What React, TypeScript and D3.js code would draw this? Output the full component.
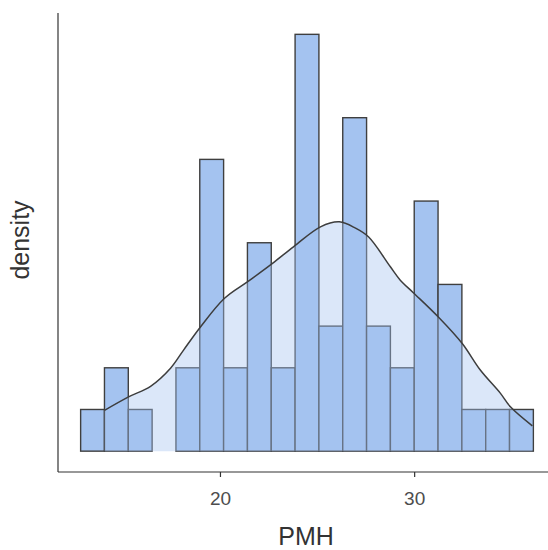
import * as d3 from 'd3'

// histogram counts per bin (19 bins)
const binStart = 12.8
const binWidth = 1.227
const counts = [1, 2, 1, 0, 2, 7, 2, 5, 2, 10, 3, 8, 3, 2, 6, 4, 1, 1, 1]
const nObs = 61

// kernel density estimate
const kdeX = [14.03, 15.27, 16.4, 17.43, 18.1, 18.97, 20.21, 21.44, 22.68, 23.76, 25.15, 26.12, 26.95, 27.62, 28.75, 29.26, 29.93, 31.22, 32.45, 33.38, 34.41, 34.93, 36.06]
const kdeY = [0.0131, 0.0174, 0.0208, 0.0266, 0.0324, 0.0398, 0.049, 0.0545, 0.0602, 0.0655, 0.0719, 0.0735, 0.0715, 0.0687, 0.0591, 0.0548, 0.0508, 0.043, 0.0345, 0.026, 0.0186, 0.0142, 0.0081]

const xTicks = [20, 30]

const W = 548
const H = 550
const fill = '#a4c3f0'
const font = '"Liberation Sans", Arial, sans-serif'

export default function App() {
  const bins = counts.map((c, i) => ({
    x0: binStart + i * binWidth,
    x1: binStart + (i + 1) * binWidth,
    density: c / (nObs * binWidth),
  }))
  const xLo = binStart
  const xHi = binStart + counts.length * binWidth
  const pad = (xHi - xLo) * 0.05
  const x = d3.scaleLinear().domain([xLo - pad, xHi + pad]).range([58, 556])

  const yMax = d3.max(bins, d => d.density) as number
  const y = d3.scaleLinear().domain([-yMax * 0.05, yMax * 1.05]).range([472, 13.5])

  const pts = kdeX.map((v, i) => [v, kdeY[i]] as [number, number])
  const area = d3.area<[number, number]>()
    .x(d => x(d[0]))
    .y0(y(0))
    .y1(d => y(d[1]))
    .curve(d3.curveCatmullRom)
  const line = d3.line<[number, number]>()
    .x(d => x(d[0]))
    .y(d => y(d[1]))
    .curve(d3.curveCatmullRom)

  return (
    <svg width={W} height={H} style={{ position: 'absolute', left: 0, top: 0 }} fontFamily={font}>
      <rect width={W} height={H} fill="white" />
      {/* bars */}
      <g>
        {bins.map((b, i) => (
          <rect
            key={i}
            x={x(b.x0)}
            y={y(b.density)}
            width={x(b.x1) - x(b.x0)}
            height={y(0) - y(b.density)}
            fill={fill}
            stroke="#3f3f3f"
            strokeWidth={1.4}
          />
        ))}
      </g>
      {/* density */}
      <path d={area(pts) || ''} fill={fill} fillOpacity={0.4} />
      <path d={line(pts) || ''} fill="none" stroke="#3d3d3d" strokeWidth={1.5} />
      {/* axes */}
      <line x1={58} x2={58} y1={13} y2={472} stroke="#333" strokeWidth={1.2} />
      <line x1={58} x2={W} y1={472} y2={472} stroke="#333" strokeWidth={1.2} />
      {xTicks.map(t => (
        <g key={t} transform={`translate(${x(t)},472)`}>
          <line y1={0} y2={5} stroke="#333" strokeWidth={1.2} />
          <text y={33} textAnchor="middle" fontSize={19} fill="#4d4d4d">{t}</text>
        </g>
      ))}
      <text x={306} y={545} textAnchor="middle" fontSize={25} fill="#333">PMH</text>
      <text transform="translate(29,240) rotate(-90)" textAnchor="middle" fontSize={25} fill="#333">density</text>
    </svg>
  )
}
